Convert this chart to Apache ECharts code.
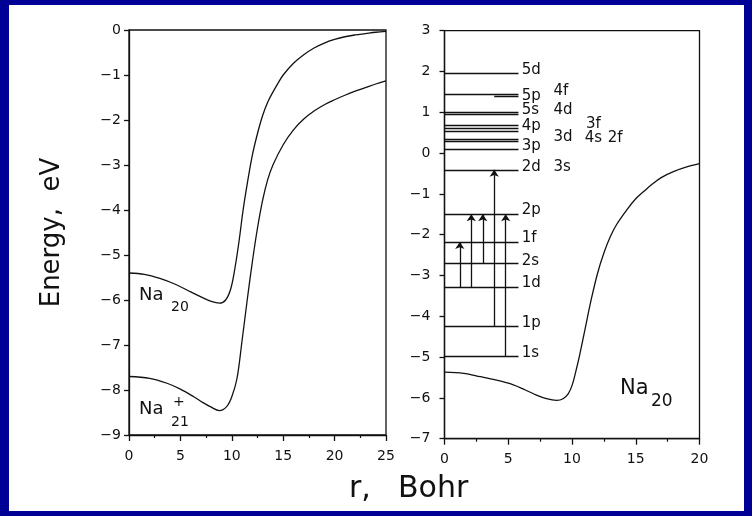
<!DOCTYPE html>
<html>
<head>
<meta charset="utf-8">
<script src="https://cdn.jsdelivr.net/npm/echarts@6/dist/echarts.min.js"></script>
<style>
html,body{margin:0;padding:0;background:#000096;}
#c{width:752px;height:516px;}
</style>
</head>
<body>
<div id="c"></div>
<script>
// ---- data ----
const leftXTicks = [0, 25, 5];      // min, max, step
const rightXTicks = [0, 20, 5];
const leftYTicks = [-9, 0, 1];
const rightYTicks = [-7, 3, 1];

const leftR20 = [0, 1.5, 3, 4.5, 6, 7, 8, 8.8, 9.4, 9.9, 10.3, 10.7, 11.1, 11.5, 12, 12.5, 13, 13.5, 14, 14.5, 15, 16, 17, 18, 19, 20, 21, 22, 23, 24, 25];
const leftE20 = [-5.40, -5.43, -5.52, -5.65, -5.82, -5.93, -6.03, -6.07, -6.00, -5.75, -5.30, -4.70, -4.00, -3.42, -2.78, -2.30, -1.90, -1.60, -1.38, -1.18, -1.00, -0.74, -0.55, -0.40, -0.29, -0.21, -0.15, -0.11, -0.08, -0.05, -0.03];

const leftR21 = [0, 2, 3.7, 5, 6.3, 7.2, 7.9, 8.8, 9.5, 10, 10.5, 11, 11.5, 12, 12.5, 13, 13.5, 14, 15, 16, 17, 18, 19, 20, 21, 22, 23, 24, 25];
const leftE21 = [-7.70, -7.74, -7.85, -7.98, -8.15, -8.28, -8.37, -8.46, -8.37, -8.15, -7.75, -6.90, -6.00, -5.15, -4.40, -3.78, -3.32, -3.00, -2.55, -2.22, -1.98, -1.80, -1.66, -1.55, -1.45, -1.36, -1.28, -1.20, -1.13];

const rightR20 = [0, 1.5, 2.8, 4, 5.4, 6.3, 7.2, 8, 8.8, 9.3, 9.7, 10, 10.3, 10.6, 11, 11.5, 12, 12.5, 13, 13.5, 14.3, 15, 15.6, 16.3, 17, 18, 19, 20];
const rightE20 = [-5.37, -5.40, -5.48, -5.56, -5.68, -5.80, -5.93, -6.02, -6.06, -6.02, -5.90, -5.70, -5.35, -4.95, -4.35, -3.60, -2.95, -2.45, -2.05, -1.75, -1.39, -1.12, -0.95, -0.76, -0.60, -0.45, -0.34, -0.26];

const levelE  = [1.96, 1.44, 1.39, 0.99, 0.96, 0.68, 0.61, 0.54, 0.35, 0.30, 0.09, -0.41, -1.50, -2.18, -2.71, -3.30, -4.25, -4.99];
const levelR0 = [0,    0,    3.9,  0,    0,    0,    0,    0,    0,    0,    0,    0,     0,     0,     0,     0,     0,     0];
const levelR1 = [5.8,  5.8,  5.8,  5.8,  5.8,  5.8,  5.8,  5.8,  5.8,  5.8,  5.8,  5.8,   5.8,   5.8,   5.8,   5.8,   5.8,   5.8];

const arrowR    = [1.2, 2.1, 3.0, 3.9, 4.8];
const arrowFrom = [-3.30, -3.30, -2.71, -4.25, -4.99];
const arrowTo   = [-2.18, -1.50, -1.50, -0.41, -1.50];

const labelText = ['5d', '5p', '4f', '5s', '4d', '4p', '3f', '3d', '4s', '2f', '3p', '2d', '3s', '2p', '1f', '2s', '1d', '1p', '1s'];
const labelR    = [6.05, 6.05, 8.55, 6.05, 8.55, 6.05, 11.1, 8.55, 11.0, 12.8, 6.05, 6.05, 8.55, 6.05, 6.05, 6.05, 6.05, 6.05, 6.05];
const labelE    = [2.04, 1.40, 1.52, 1.06, 1.06, 0.65, 0.71, 0.40, 0.36, 0.37, 0.16, -0.35, -0.35, -1.39, -2.09, -2.64, -3.19, -4.17, -4.91];

// ---- chart ----
const INK = '#111111';
const FONT = 'DejaVu Sans';
const minus = v => (v < 0 ? '\u2212' + Math.abs(v) : String(v));
const pairs = (xs, ys) => xs.map((x, i) => [x, ys[i]]);

function xAxisCfg(grid, t) {
  return {
    type: 'value', gridIndex: grid, min: t[0], max: t[1], interval: t[2],
    axisLine: { onZero: false, lineStyle: { color: INK, width: 1.3 } },
    axisTick: { show: true, length: 6, lineStyle: { color: INK, width: 1.3 } },
    minorTick: { show: true, splitNumber: 2, length: 3, lineStyle: { color: INK, width: 1.2 } },
    splitLine: { show: false },
    axisLabel: { color: INK, fontSize: 14, fontFamily: FONT, margin: 14 }
  };
}
function yAxisCfg(grid, t, margin, extra) {
  return Object.assign({
    type: 'value', gridIndex: grid, min: t[0], max: t[1], interval: t[2],
    axisLine: { onZero: false, lineStyle: { color: INK, width: 1.3 } },
    axisTick: { show: true, length: 5, lineStyle: { color: INK, width: 1.3 } },
    splitLine: { show: false },
    axisLabel: { color: INK, fontSize: 14, fontFamily: FONT, margin: margin, formatter: minus }
  }, extra || {});
}
const curve = (xi, data) => ({
  type: 'line', xAxisIndex: xi, yAxisIndex: xi, data: data, smooth: 0.35,
  showSymbol: false, symbol: 'none', lineStyle: { color: INK, width: 1.3 }, silent: true
});
const txt = (left, top, text, size) => ({
  type: 'text', left: left, top: top, style: { text: text, fontSize: size, fontFamily: FONT, fill: INK }
});

const chart = echarts.init(document.getElementById('c'), null, { renderer: 'canvas' });
chart.setOption({
  animation: false,
  backgroundColor: '#000096',
  graphic: [
    { type: 'rect', z: -10, shape: { x: 9, y: 5, width: 735, height: 506 }, style: { fill: '#ffffff' } },
    txt(139, 286, 'Na', 18), txt(171, 300, '20', 14),
    txt(139, 400, 'Na', 18), txt(173, 395, '+', 14), txt(171, 415, '21', 14),
    txt(620, 378, 'Na', 21), txt(651, 393, '20', 17),
    txt(349, 474, 'r,', 30), txt(398, 474, 'Bohr', 30)
  ],
  grid: [
    { left: 129, top: 30, width: 257, height: 405, show: true, borderColor: INK, borderWidth: 1.3 },
    { left: 444.5, top: 30.7, width: 255, height: 408, show: true, borderColor: INK, borderWidth: 1.3 }
  ],
  xAxis: [xAxisCfg(0, leftXTicks), xAxisCfg(1, rightXTicks)],
  yAxis: [
    yAxisCfg(0, leftYTicks, 8, {
      name: 'Energy,  eV', nameLocation: 'middle', nameGap: 64,
      nameTextStyle: { color: INK, fontSize: 26, fontFamily: FONT }
    }),
    yAxisCfg(1, rightYTicks, 14)
  ],
  series: [
    curve(0, pairs(leftR20, leftE20)),
    curve(0, pairs(leftR21, leftE21)),
    curve(1, pairs(rightR20, rightE20)),
    {
      type: 'lines', coordinateSystem: 'cartesian2d', xAxisIndex: 1, yAxisIndex: 1, silent: true,
      lineStyle: { color: INK, width: 1.3, opacity: 1, curveness: 0 },
      data: levelE.map((e, i) => ({ coords: [[levelR0[i], e], [levelR1[i], e]] }))
    },
    {
      type: 'lines', coordinateSystem: 'cartesian2d', xAxisIndex: 1, yAxisIndex: 1, silent: true,
      symbol: ['none', 'arrow'], symbolSize: 7,
      lineStyle: { color: INK, width: 1.3, opacity: 1, curveness: 0 },
      data: arrowR.map((r, i) => ({ coords: [[r, arrowFrom[i]], [r, arrowTo[i]]] }))
    },
    {
      type: 'scatter', xAxisIndex: 1, yAxisIndex: 1, symbolSize: 0, silent: true,
      itemStyle: { opacity: 1, color: INK },
      data: pairs(labelR, labelE),
      label: {
        show: true, position: 'right', distance: 0, color: INK, fontSize: 15, fontFamily: FONT,
        opacity: 1, formatter: p => labelText[p.dataIndex]
      }
    }
  ]
});
</script>
</body>
</html>
